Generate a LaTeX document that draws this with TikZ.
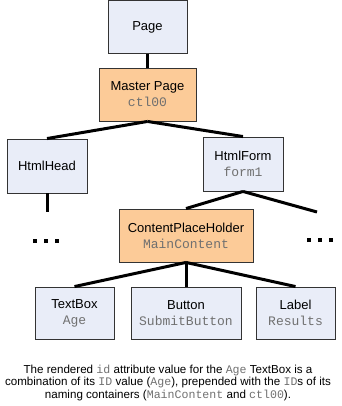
\documentclass[tikz,border=0pt]{standalone}
\usepackage{fontspec}
\setmainfont{Liberation Sans}
\setmonofont{Liberation Mono}
\definecolor{boxblue}{HTML}{E9EDF8}
\definecolor{boxorange}{HTML}{FCCB98}
\definecolor{codegray}{HTML}{707070}
\newcommand{\cd}[1]{{\ttfamily\color{codegray}#1}}
\begin{document}
\begin{tikzpicture}[x=1pt,y=-1pt,
  ctl/.style={draw=black!80, line width=0.9pt, inner sep=0pt, align=center,
     font=\fontsize{13}{16}\selectfont, minimum height=53pt},
  blueb/.style={ctl, fill=boxblue},
  orangeb/.style={ctl, fill=boxorange},
  link/.style={line width=3pt, line cap=butt},
  dots/.style={inner sep=0pt}]
\useasboundingbox (0,0) rectangle (341,406);
\node[blueb, minimum width=79pt] (page) at (147.5,27) {Page};
\node[orangeb, minimum width=97pt] (master) at (147.5,94.5) {Master Page\\\cd{ctl00}};
\node[blueb, minimum width=80pt, minimum height=54pt] (head) at (47,166) {HtmlHead};
\node[blueb, minimum width=80pt, minimum height=54pt] (form) at (243,164) {HtmlForm\\\cd{form1}};
\node[orangeb, minimum width=134pt] (cph) at (186,235.5) {ContentPlaceHolder\\\cd{MainContent}};
\node[blueb, minimum width=79pt, minimum height=52pt] (tb) at (74.5,313) {TextBox\\\cd{Age}};
\node[blueb, minimum width=110pt, minimum height=52pt] (btn) at (186,313) {Button\\\cd{SubmitButton}};
\node[blueb, minimum width=79pt, minimum height=52pt] (lbl) at (295.5,313) {Label\\\cd{Results}};
\node[dots] (dl) at (46,241) {\rule{4pt}{4pt}\hspace{7pt}\rule{4pt}{4pt}\hspace{7pt}\rule{4pt}{4pt}};
\node[dots] (dr) at (320,240) {\rule{4pt}{4pt}\hspace{7pt}\rule{4pt}{4pt}\hspace{7pt}\rule{4pt}{4pt}};
\coordinate (hl) at (47,212);
\coordinate (fr) at (317,212);
\draw[link] (page.south) -- (master.north);
\draw[link] (master.south) -- (head.north);
\draw[link] (master.south) -- (form.north);
\draw[link] (head.south) -- (hl);
\draw[link] (form.south) -- (cph.north);
\draw[link] (form.south) -- (fr);
\draw[link] (cph.south) -- (tb.north);
\draw[link] (cph.south) -- (btn.north);
\draw[link] (cph.south) -- (lbl.north);
\node[inner sep=0pt, anchor=north, align=center, font=\fontsize{11.6}{12.5}\selectfont] (cap) at (168,364.5)
 {The rendered \cd{id} attribute value for the \cd{Age} TextBox is a\\
  combination of its \cd{ID} value (\cd{Age}), prepended with the \cd{ID}s of its\\
  naming containers (\cd{MainContent} and \cd{ctl00}).};
\end{tikzpicture}
\end{document}
